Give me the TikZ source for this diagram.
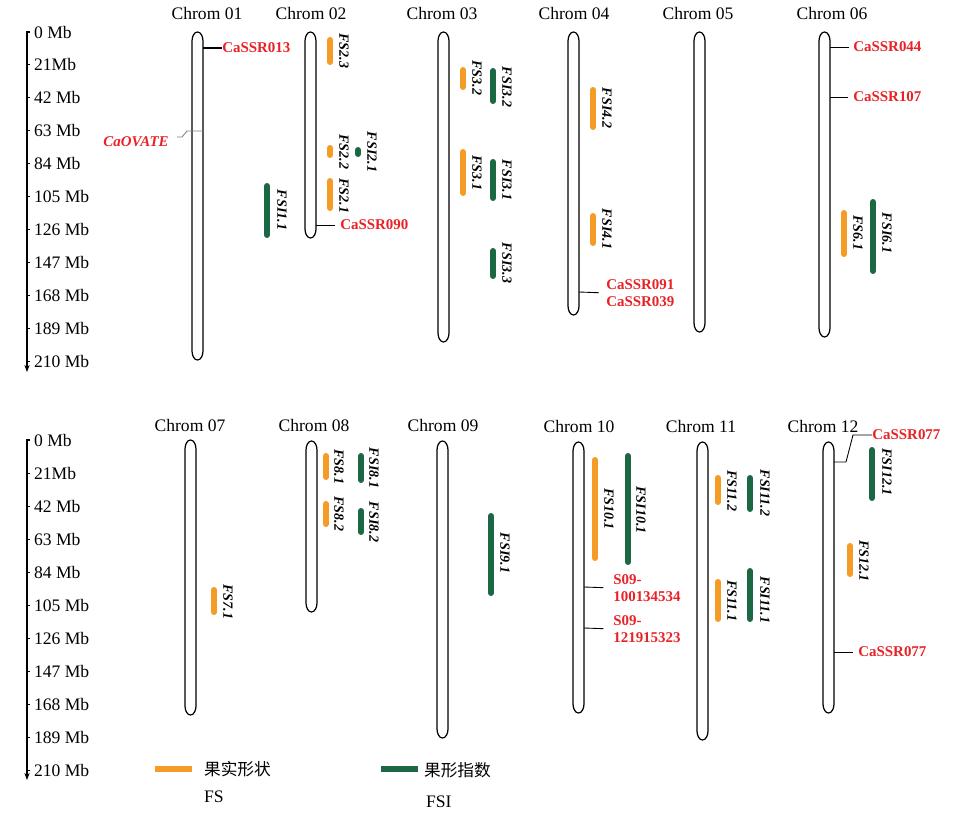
\documentclass[tikz,border=0pt]{standalone}
\usepackage{fontspec}
\setmainfont{Liberation Serif}
\newfontfamily\cjk{Noto Sans CJK SC}
\usetikzlibrary{arrows.meta}
\definecolor{fsorange}{RGB}{244,156,38}
\definecolor{fsigreen}{RGB}{28,104,68}
\definecolor{mkred}{RGB}{232,34,38}
\tikzset{
  chrom/.style={draw=black,line width=0.7pt,fill=white},
  fsbar/.style={draw=fsorange,line width=3.4pt,line cap=round},
  fsibar/.style={draw=fsigreen,line width=3.4pt,line cap=round},
  qtl/.style={rotate=-90,inner sep=0pt,font=\fontsize{8}{9}\selectfont\bfseries\itshape},
  marker/.style={text=mkred,anchor=west,inner sep=0pt,align=left,font=\fontsize{8.5}{9.8}\selectfont\bfseries},
  mkline/.style={line width=0.5pt},
  title/.style={font=\fontsize{10}{12}\selectfont},
  ticklab/.style={anchor=west,inner sep=1pt,font=\fontsize{10}{12}\selectfont},
  axis/.style={line width=0.6pt}
}
% capsule of one chromosome, 11 wide: (left)(top,bottom)
\def\chromo(#1)(#2,#3){\draw[chrom] (#1,{#2+9}) arc[start angle=180,end angle=0,x radius=0.11cm,y radius=0.18cm] -- ({#1+11},{#3-9}) arc[start angle=0,end angle=-180,x radius=0.11cm,y radius=0.18cm] -- cycle;}

\begin{document}
\begin{tikzpicture}[x=0.02cm,y=-0.02cm]
\useasboundingbox (0,0) rectangle (956,817);

% Mb scales
\foreach \top/\k in {32/1.567,440/1.576}{
  \draw[axis,-{Stealth[length=4pt,width=3pt]}] (30,\top) -- (27,\top) -- (27,{\top+340});
  \foreach \v/\t in {0/0 Mb,21/21Mb,42/42 Mb,63/63 Mb,84/84 Mb,105/105 Mb,126/126 Mb,147/147 Mb,168/168 Mb,189/189 Mb,210/210 Mb}{
    \draw[axis] (27,{\top+\v*\k}) -- (30,{\top+\v*\k});
    \node[ticklab] (ax\top-\v) at (32,{\top+\v*\k}) {\t};
  }
}

% chromosomes, top row
\chromo(192)(32,360)
\chromo(305)(32,238)
\chromo(438)(32,342)
\chromo(568)(32,315)
\chromo(694)(32,332)
\chromo(819)(32,337)
\node[title] (chr01) at (207,13) {Chrom 01};
\node[title] (chr02) at (311,13) {Chrom 02};
\node[title] (chr03) at (442,13) {Chrom 03};
\node[title] (chr04) at (574,13) {Chrom 04};
\node[title] (chr05) at (698,13) {Chrom 05};
\node[title] (chr06) at (832,13) {Chrom 06};

% chromosomes, bottom row
\chromo(185)(440,715)
\chromo(306)(441,612)
\chromo(437)(441,738)
\chromo(573)(442,713)
\chromo(697)(442,740)
\chromo(823)(442,713)
\node[title] (chr07) at (190,425) {Chrom 07};
\node[title] (chr08) at (314,425) {Chrom 08};
\node[title] (chr09) at (443,425) {Chrom 09};
\node[title] (chr10) at (579,426) {Chrom 10};
\node[title] (chr11) at (701,426) {Chrom 11};
\node[title] (chr12) at (823,426) {Chrom 12};

% QTL, top row
\draw[fsibar] (267,186) -- (267,235);
\node[qtl] (fsi11) at (282,210) {FSI1.1};
\draw[fsbar] (330,40) -- (330,62);
\node[qtl] (fs23) at (344,51) {FS2.3};
\draw[fsbar] (330,148) -- (330,155);
\node[qtl] (fs22) at (344,152) {FS2.2};
\draw[fsbar] (330,181) -- (330,208);
\node[qtl] (fs21) at (344,196) {FS2.1};
\draw[fsibar] (358,150) -- (358,154);
\node[qtl] (fsi21) at (372,152) {FSI2.1};
\draw[fsbar] (463,70) -- (463,87);
\node[qtl] (fs32) at (477,78) {FS3.2};
\draw[fsibar] (493,71) -- (493,101);
\node[qtl] (fsi32) at (507,87) {FSI3.2};
\draw[fsbar] (463,152) -- (463,193);
\node[qtl] (fs31) at (477,173) {FS3.1};
\draw[fsibar] (493,162) -- (493,198);
\node[qtl] (fsi31) at (507,180) {FSI3.1};
\draw[fsibar] (493,251) -- (493,276);
\node[qtl] (fsi33) at (507,263) {FSI3.3};
\draw[fsbar] (593,90) -- (593,127);
\node[qtl] (fsi42) at (607,108) {FSI4.2};
\draw[fsbar] (593,216) -- (593,243);
\node[qtl] (fsi41) at (607,229) {FSI4.1};
\draw[fsbar] (844,213) -- (844,254);
\node[qtl] (fs61) at (858,233) {FS6.1};
\draw[fsibar] (873,202) -- (873,271);
\node[qtl] (fsi61) at (887,233) {FSI6.1};

% QTL, bottom row
\draw[fsbar] (214,590) -- (214,612);
\node[qtl] (fs71) at (228,602) {FS7.1};
\draw[fsbar] (326,456) -- (326,477);
\node[qtl] (fs81) at (339,467) {FS8.1};
\draw[fsbar] (326,504) -- (326,524);
\node[qtl] (fs82) at (339,514) {FS8.2};
\draw[fsibar] (361,456) -- (361,480);
\node[qtl] (fsi81) at (374,468) {FSI8.1};
\draw[fsibar] (361,511) -- (361,532);
\node[qtl] (fsi82) at (374,522) {FSI8.2};
\draw[fsibar] (491,516) -- (491,593);
\node[qtl] (fsi91) at (505,553) {FSI9.1};
\draw[fsbar] (595,460) -- (595,558);
\node[qtl] (fs101) at (609,509) {FS10.1};
\draw[fsibar] (628,456) -- (628,562);
\node[qtl] (fsi101) at (641,510) {FSI10.1};
\draw[fsbar] (718,478) -- (718,502);
\node[qtl] (fs112) at (732,491) {FS11.2};
\draw[fsibar] (750,478) -- (750,509);
\node[qtl] (fsi112) at (765,493) {FSI11.2};
\draw[fsbar] (718,582) -- (718,619);
\node[qtl] (fs111) at (732,601) {FS11.1};
\draw[fsibar] (750,571) -- (750,619);
\node[qtl] (fsi111) at (765,600) {FSI11.1};
\draw[fsibar] (872,450) -- (872,498);
\node[qtl] (fsi121) at (887,472) {FSI12.1};
\draw[fsbar] (850,546) -- (850,574);
\node[qtl] (fs121) at (864,561) {FS12.1};

% markers
\coordinate (m013) at (203,48);
\node[marker] (ssr013) at (222,48) {CaSSR013};
\draw[mkline,line width=1pt] (m013) -- (ssr013.west);
\coordinate (movate) at (203,131);
\node[marker,anchor=east,font=\fontsize{8.5}{10}\selectfont\bfseries\itshape] (caovate) at (169,142) {CaOVATE};
\draw[mkline,draw=gray] (movate) -- ++(-16,0) -- ++(-5,6) -- ++(-5,0);
\coordinate (m090) at (316,225);
\node[marker] (ssr090) at (340,225) {CaSSR090};
\draw[mkline,shorten >=3pt] (m090) -- (ssr090.west);
\coordinate (m091) at (579,292);
\node[marker] (ssr091) at (606,293) {CaSSR091\\CaSSR039};
\draw[mkline,shorten >=4pt] (m091) -- (ssr091.west);
\coordinate (m044) at (830,47);
\node[marker] (ssr044) at (853,47) {CaSSR044};
\draw[mkline,shorten >=2pt] (m044) -- (ssr044.west);
\coordinate (m107) at (830,97);
\node[marker] (ssr107) at (853,97) {CaSSR107};
\draw[mkline,shorten >=3pt] (m107) -- (ssr107.west);
\coordinate (ms09a) at (584,587);
\node[marker] (s09a) at (613,588) {S09-\\100134534};
\draw[mkline,shorten >=5.5pt] (ms09a) -- (s09a.west);
\coordinate (ms09b) at (584,628);
\node[marker] (s09b) at (613,629) {S09-\\121915323};
\draw[mkline,shorten >=5.5pt] (ms09b) -- (s09b.west);
\coordinate (m077a) at (834,462);
\node[marker] (ssr077a) at (872,435) {CaSSR077};
\draw[mkline] (m077a) -- ++(12,0) -- ++(7,-27) -- (ssr077a.west);
\coordinate (m077b) at (834,652);
\node[marker] (ssr077b) at (858,652) {CaSSR077};
\draw[mkline,shorten >=3pt] (m077b) -- (ssr077b.west);

% legend
\coordinate (lgfs) at (155,769);
\draw[fsbar,line cap=butt] (lgfs) -- ++(37,0);
\node[ticklab] (lgfstxt) at (202,769) {\cjk\fontsize{9.5}{11}\selectfont 果实形状};
\node[ticklab] (lgfsab) at (202,797) {FS};
\coordinate (lgfsi) at (381,769);
\draw[fsibar,line cap=butt] (lgfsi) -- ++(37,0);
\node[ticklab] (lgfsitxt) at (422,770) {\cjk\fontsize{9.5}{11}\selectfont 果形指数};
\node[ticklab] (lgfsiab) at (424,802) {FSI};
\end{tikzpicture}
\end{document}
